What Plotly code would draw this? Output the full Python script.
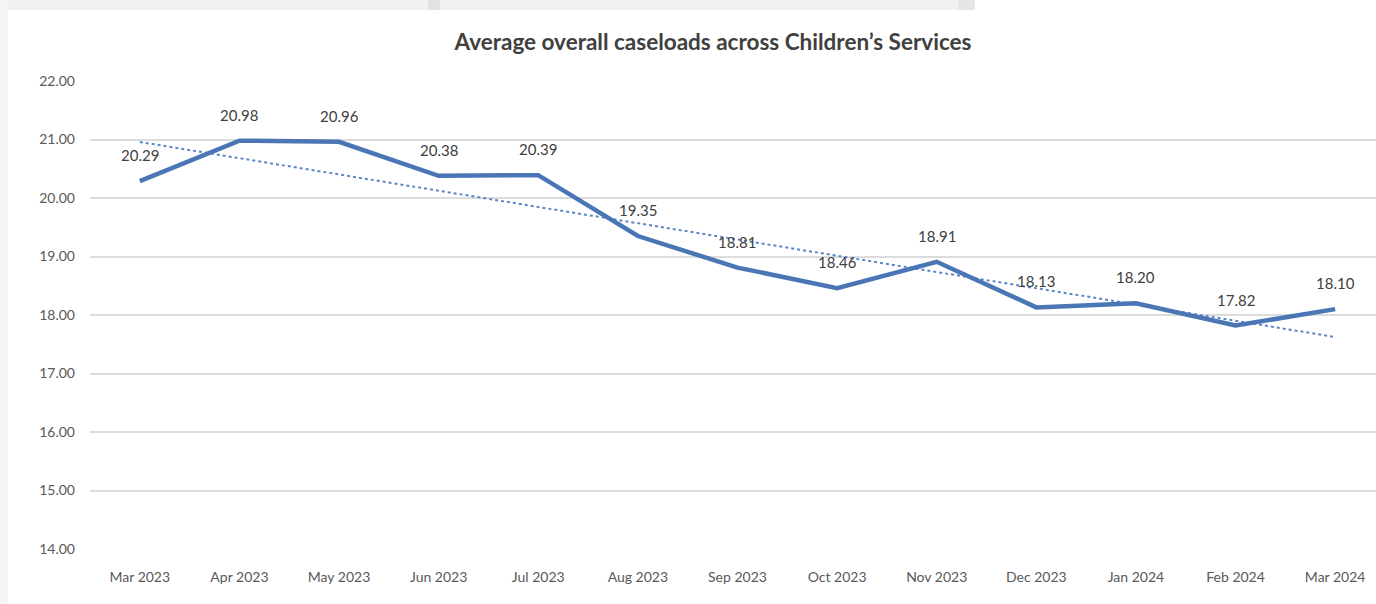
import numpy as np
import plotly.graph_objects as go

months = ["Mar 2023", "Apr 2023", "May 2023", "Jun 2023", "Jul 2023", "Aug 2023",
          "Sep 2023", "Oct 2023", "Nov 2023", "Dec 2023", "Jan 2024", "Feb 2024", "Mar 2024"]
caseloads = [20.29, 20.98, 20.96, 20.38, 20.39, 19.35, 18.81, 18.46, 18.91, 18.13, 18.20, 17.82, 18.10]
y_ticks = [14, 15, 16, 17, 18, 19, 20, 21, 22]

idx = np.arange(len(months))
slope, intercept = np.polyfit(idx, caseloads, 1)
trend = slope * idx + intercept

LINE = "#4a76b6"
FONT = "Lato"

fig = go.Figure()
fig.add_trace(go.Scatter(
    x=idx, y=trend, mode="lines",
    line=dict(color="#5b86c4", width=2, dash="dot"),
    hoverinfo="skip", showlegend=False))
fig.add_trace(go.Scatter(
    x=idx, y=caseloads, mode="lines",
    line=dict(color=LINE, width=4.5),
    showlegend=False))

annotations = [
    dict(x=i, y=v, xref="x", yref="y", text=f"{v:.2f}", showarrow=False,
         yshift=26, xanchor="center", yanchor="middle",
         font=dict(family=FONT, size=15, color="#404040"))
    for i, v in zip(idx, caseloads)
]

W, H = 1376, 604
ml, mr, mt, mb = 90, 0, 81, 55
pw, ph = W - ml - mr, H - mt - mb

def px_x(p):
    return (p - ml) / pw

def px_y(p):
    return (H - mb - p) / ph

shapes = [
    dict(type="rect", xref="paper", yref="paper", x0=px_x(0), x1=px_x(975), y0=px_y(10), y1=px_y(0),
         fillcolor="#f1f1f1", line=dict(width=0), layer="below"),
    dict(type="rect", xref="paper", yref="paper", x0=px_x(0), x1=px_x(8), y0=px_y(604), y1=px_y(0),
         fillcolor="#f4f4f4", line=dict(width=0), layer="below"),
    dict(type="rect", xref="paper", yref="paper", x0=px_x(428), x1=px_x(440), y0=px_y(10), y1=px_y(0),
         fillcolor="#e2e2e2", line=dict(width=0), layer="below"),
    dict(type="rect", xref="paper", yref="paper", x0=px_x(958), x1=px_x(975), y0=px_y(10), y1=px_y(0),
         fillcolor="#e6e6e6", line=dict(width=0), layer="below"),
]

fig.update_layout(
    width=W, height=H,
    margin=dict(l=ml, r=mr, t=mt, b=mb),
    paper_bgcolor="white", plot_bgcolor="white",
    font=dict(family=FONT, color="#595959"),
    title=dict(text="<b>Average overall caseloads across Children’s Services</b>",
               x=713 / W, xref="container", xanchor="center",
               y=1 - 42 / H, yref="container", yanchor="middle",
               font=dict(family=FONT, size=22.5, color="#404040")),
    xaxis=dict(range=[-0.5, 12.41], tickmode="array", tickvals=idx, ticktext=months,
               showgrid=False, zeroline=False, showline=False,
               tickfont=dict(family=FONT, size=14, color="#595959"),
               ticks="", ticklabelstandoff=18, fixedrange=True),
    yaxis=dict(range=[14, 22], tickmode="array", tickvals=y_ticks,
               ticktext=[f"{v:.2f}" for v in y_ticks],
               showgrid=True, gridcolor="#dcdcdc", gridwidth=2,
               zeroline=False, showline=False,
               tickfont=dict(family=FONT, size=14, color="#595959"),
               ticks="", ticklabelstandoff=14, fixedrange=True),
    shapes=shapes,
    annotations=annotations,
)

fig.write_html("out.html")
